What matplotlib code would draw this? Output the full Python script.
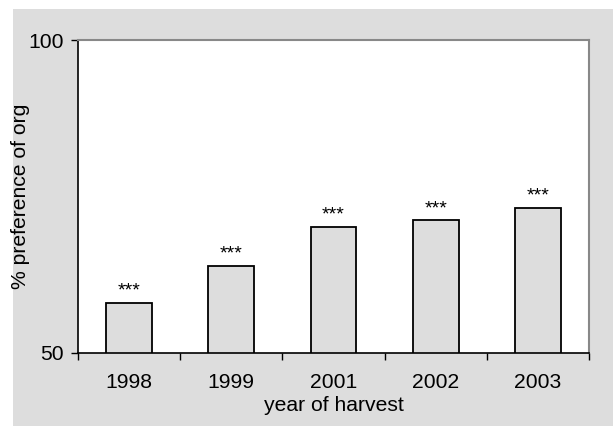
import numpy as np
import matplotlib
matplotlib.use('Agg')
import matplotlib.pyplot as plt
import matplotlib.patches as mpatches

plt.rcParams['font.family'] = ['Liberation Sans', 'DejaVu Sans']

# data
years = ['1998', '1999', '2001', '2002', '2003']
pref = [58.0, 63.9, 70.2, 71.2, 73.2]
signif = ['***', '***', '***', '***', '***']

W, H = 613, 426
fig = plt.figure(figsize=(W / 100, H / 100), dpi=100)
fig.patch.set_facecolor('white')

# gray backdrop, white strip on the top and left
fig.patches.append(mpatches.Rectangle((13 / W, 0), 1 - 13 / W, (H - 9) / H,
                                      transform=fig.transFigure, facecolor='#dddddd',
                                      edgecolor='none', zorder=-10))

ax = fig.add_axes([78 / W, (H - 353) / H, (589 - 78) / W, (353 - 40) / H])
ax.set_facecolor('white')

fs = 15.2
x = np.arange(len(years))
ax.bar(x, pref, width=0.45, bottom=0, color='#dddddd', edgecolor='black', linewidth=1.3, zorder=2)
for xi, v, s in zip(x, pref, signif):
    ax.text(xi, v + 0.5, s, ha='center', va='bottom', fontsize=14)

ax.set_xlim(-0.5, len(years) - 0.5)
ax.set_ylim(50, 100)
ax.set_yticks([50, 100])
ax.set_xticks(np.arange(len(years) + 1) - 0.5, minor=False)
ax.set_xticklabels([])
ax.set_xticks(x, minor=True)
ax.set_xticklabels(years, minor=True)
ax.tick_params(axis='x', which='major', direction='out', length=5, width=1, color='black')
ax.tick_params(axis='x', which='minor', length=0, labelsize=fs, pad=14.5)
ax.tick_params(axis='y', direction='out', length=5, width=1, labelsize=fs, pad=5)

for side in ['left', 'bottom']:
    ax.spines[side].set_color('black')
    ax.spines[side].set_linewidth(1.2)
for side in ['top', 'right']:
    ax.spines[side].set_color('#888888')
    ax.spines[side].set_linewidth(1.5)

ax.set_xlabel('year of harvest', fontsize=fs, labelpad=3)
ax.set_ylabel('% preference of org', fontsize=fs)
ax.yaxis.set_label_coords(-0.094, 0.5)

fig.savefig('out.png', dpi=100)
